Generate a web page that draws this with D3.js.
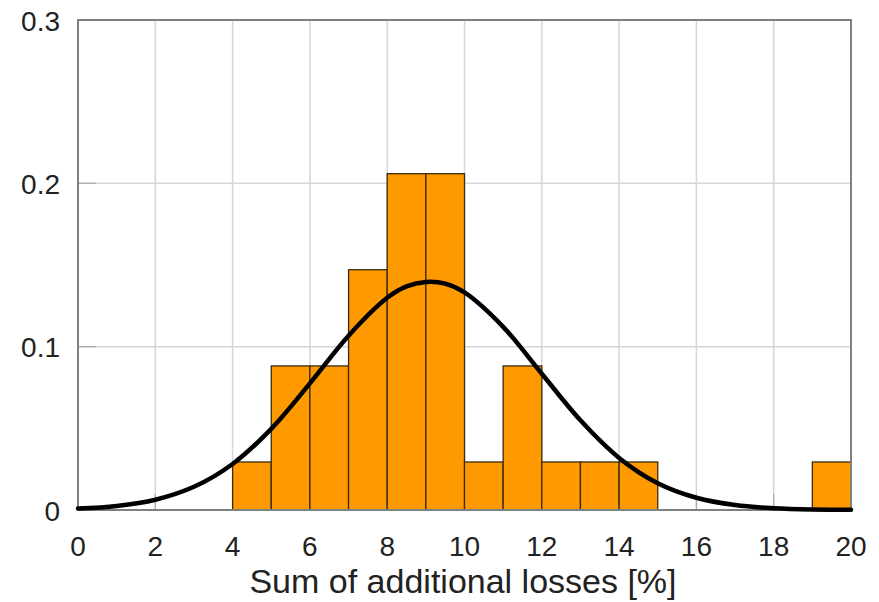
<!DOCTYPE html>
<html><head><meta charset="utf-8">
<script src="https://cdn.jsdelivr.net/npm/d3@7"></script>
<style>body{margin:0;background:#fff}svg{display:block}text{font-family:"Liberation Sans",Arial,sans-serif;fill:#222}</style>
</head><body>
<svg id="c" width="879" height="602"></svg>
<script>
// Histogram bins (lower edge, width 1) and relative frequencies
const binStarts = [4,5,6,7,8,9,10,11,12,13,14,19];
const binValues = [0.0294,0.0882,0.0882,0.1471,0.2059,0.2059,0.0294,0.0882,0.0294,0.0294,0.0294,0.0294];
// Fitted density curve
const curveX = [0,1,2,3,4,5,6,7,8,8.5,9,9.5,10,11,12,13,14,15,16,17,18,19,20];
const curveY = [0.0009,0.0025,0.0063,0.0142,0.0282,0.0497,0.0775,0.1067,0.1299,0.1369,0.1396,0.1386,0.1332,0.1121,0.0834,0.0549,0.0319,0.0164,0.0075,0.0030,0.0011,0.0003,0.0001];
const xTicks = [0,2,4,6,8,10,12,14,16,18,20];
const yTicks = [0,0.1,0.2,0.3];
const yTickLabels = ["0","0.1","0.2","0.3"];
const xTitle = "Sum of additional losses [%]";

const svg = d3.select("#c");
const L=78,R=851,T=20,B=510;
const x = d3.scaleLinear().domain([0,20]).range([L,R]);
const y = d3.scaleLinear().domain([0,0.3]).range([B,T]);

// grid
const g = svg.append("g");
g.selectAll("line.vx").data(xTicks).join("line")
  .attr("x1",d=>x(d)).attr("x2",d=>x(d)).attr("y1",T).attr("y2",B)
  .attr("stroke","#d6d6d6").attr("stroke-width",1.5);
g.selectAll("line.hy").data(yTicks).join("line")
  .attr("y1",d=>y(d)).attr("y2",d=>y(d)).attr("x1",L).attr("x2",R)
  .attr("stroke","#d6d6d6").attr("stroke-width",1.5);
// inner ticks
g.selectAll("line.tx").data(xTicks).join("line")
  .attr("x1",d=>x(d)).attr("x2",d=>x(d)).attr("y1",B).attr("y2",B-16)
  .attr("stroke","#aaa").attr("stroke-width",1.2);
g.selectAll("line.ty").data(yTicks).join("line")
  .attr("y1",d=>y(d)).attr("y2",d=>y(d)).attr("x1",L).attr("x2",L+18)
  .attr("stroke","#aaa").attr("stroke-width",1.2);

// bars
svg.append("g").selectAll("rect").data(binStarts.map((s,i)=>({s,v:binValues[i]}))).join("rect")
  .attr("x",d=>x(d.s)).attr("width",d=>x(d.s+1)-x(d.s))
  .attr("y",d=>y(d.v)).attr("height",d=>y(0)-y(d.v))
  .attr("fill","#ff9900").attr("stroke","#3a2a10").attr("stroke-width",1.3);

// frame
svg.append("rect").attr("x",L).attr("y",T).attr("width",R-L).attr("height",B-T)
  .attr("fill","none").attr("stroke","#808080").attr("stroke-width",2);

// curve
const line = d3.line().x(d=>x(d[0])).y(d=>y(d[1])).curve(d3.curveCatmullRom);
svg.append("path").datum(curveX.map((v,i)=>[v,curveY[i]]))
  .attr("d",line).attr("fill","none").attr("stroke","#000").attr("stroke-width",4.5)
  .attr("stroke-linecap","round");

// tick labels
svg.append("g").selectAll("text").data(xTicks).join("text")
  .attr("x",d=>x(d)).attr("y",556).attr("text-anchor","middle")
  .attr("font-size",28).text(d=>d);
svg.append("g").selectAll("text").data(yTicks).join("text")
  .attr("x",60).attr("y",d=>y(d)+10.5).attr("text-anchor","end")
  .attr("font-size",28).text((d,i)=>yTickLabels[i]);
svg.append("text").attr("x",463).attr("y",593).attr("text-anchor","middle")
  .attr("font-size",34).text(xTitle);
</script>
</body></html>
